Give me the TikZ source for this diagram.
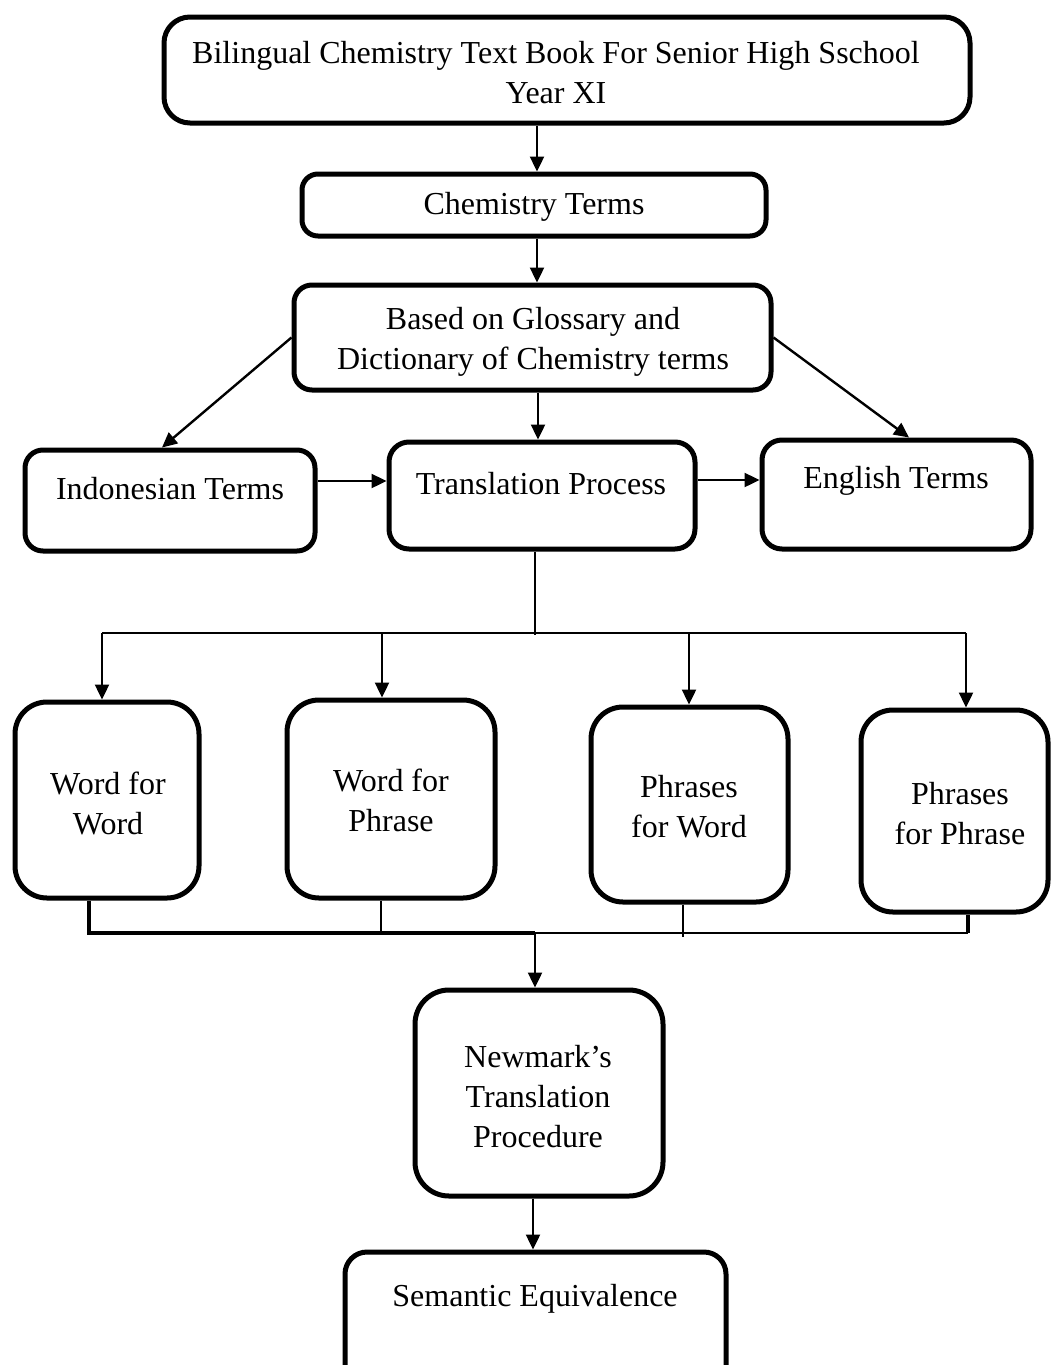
\documentclass[tikz,border=0pt]{standalone}
\usepackage{fontspec}
\setmainfont{Liberation Serif}
\usetikzlibrary{arrows.meta}
\begin{document}
\begin{tikzpicture}[x={(0.5pt,0)},y={(0,-0.5pt)},
  box/.style={draw, line width=2.5pt, inner sep=0pt},
  txt/.style={align=center, inner sep=0pt, font=\fontsize{16}{20}\selectfont},
  arr/.style={line width=1.2pt, -{Triangle[length=7.5pt,width=7pt]}},
  thinline/.style={line width=0.6pt},
  midline/.style={line width=1pt},
  heavyline/.style={line width=1.7pt}]
\useasboundingbox (0,0) rectangle (1054,1365);

% boxes
\node[box, rounded corners=13pt, minimum width=403pt, minimum height=53pt] (top) at (567,70) {};
\node[box, rounded corners=8pt, minimum width=232pt, minimum height=31pt] (chem) at (534,205) {};
\node[box, rounded corners=9pt, minimum width=238.5pt, minimum height=52.5pt] (based) at (532.5,337.5) {};
\node[box, rounded corners=9pt, minimum width=145pt, minimum height=50.5pt] (indo) at (170,500.5) {};
\node[box, rounded corners=10pt, minimum width=153pt, minimum height=53.5pt] (trans) at (542,495.5) {};
\node[box, rounded corners=10pt, minimum width=134.5pt, minimum height=54.5pt] (eng) at (896.5,494.5) {};
\node[box, rounded corners=16pt, minimum width=92pt, minimum height=98pt] (wfw) at (107,800) {};
\node[box, rounded corners=16pt, minimum width=104pt, minimum height=99pt] (wfp) at (391,799) {};
\node[box, rounded corners=16pt, minimum width=98.5pt, minimum height=97.5pt] (pfw) at (689.5,804.5) {};
\node[box, rounded corners=16pt, minimum width=93.5pt, minimum height=101pt] (pfp) at (954.5,811) {};
\node[box, rounded corners=17pt, minimum width=124pt, minimum height=103pt] (newm) at (539,1093) {};
\node[box, rounded corners=11pt, minimum width=190.5pt, minimum height=69pt] (sem) at (535.5,1321) {};

% texts
\node[txt] (ttop) at (556,73) {Bilingual Chemistry Text Book For Senior High Sschool\\Year XI};
\node[txt] (tchem) at (534,207) {Chemistry Terms};
\node[txt] (tbased) at (533,342) {Based on Glossary and\\Dictionary of Chemistry terms};
\node[txt] (tindo) at (170,489) {Indonesian Terms};
\node[txt] (ttrans) at (541,484) {Translation Process};
\node[txt] (teng) at (896,481) {English Terms};
\node[txt] (twfw) at (108,803) {Word for\\Word};
\node[txt] (twfp) at (391,800) {Word for\\Phrase};
\node[txt] (tpfw) at (689,807) {Phrases\\for Word};
\node[txt] (tpfp) at (960,814) {Phrases\\for Phrase};
\node[txt] (tnewm) at (538,1097) {Newmark’s\\Translation\\Procedure};
\node[txt] (tsem) at (535,1299) {Semantic Equivalence};

% helper coordinates
\coordinate (x537) at (537,0);
\coordinate (x538) at (538,0);
\coordinate (x533) at (533,0);
\coordinate (dl) at (162,0);
\coordinate (dr) at (909,0);
\coordinate (h1) at (0,481);
\coordinate (h2) at (0,480);
\coordinate (j1) at (535,633);
\coordinate (a1) at (102,633);
\coordinate (a2) at (382,633);
\coordinate (a3) at (689,633);
\coordinate (a4) at (966,633);
\coordinate (b1) at (89,933);
\coordinate (bm) at (535,933);
\coordinate (b4) at (968,933);
\coordinate (s2) at (381,935);
\coordinate (s3) at (683,937);

% connectors
\draw[arr] (top.south -| x537) -- (chem.north -| x537);
\draw[arr] (chem.south -| x537) -- (based.north -| x537);
\draw[arr] (based.west) -- (indo.north -| dl);
\draw[arr] (based.east) -- (eng.north -| dr);
\draw[arr] (based.south -| x538) -- (trans.north -| x538);
\draw[arr] (indo.east |- h1) -- (trans.west |- h1);
\draw[arr] (trans.east |- h2) -- (eng.west |- h2);

\draw[thinline] (trans.south -| j1) -- ([yshift=-1pt]j1);
\draw[midline] (a1) -- (a4);
\draw[arr] (a1) -- (wfw.north -| a1);
\draw[arr] (a2) -- (wfp.north -| a2);
\draw[arr] (a3) -- (pfw.north -| a3);
\draw[arr] (a4) -- (pfp.north -| a4);

\draw[heavyline] (wfw.south -| b1) -- (b1) -- (bm);
\draw[midline] (bm) -- (b4);
\draw[heavyline] (b4) -- (pfp.south -| b4);
\draw[thinline] (wfp.south -| s2) -- (s2);
\draw[thinline] (pfw.south -| s3) -- (s3);
\draw[arr] (bm) -- (newm.north -| bm);
\draw[arr] (newm.south -| x533) -- (sem.north -| x533);
\end{tikzpicture}
\end{document}
